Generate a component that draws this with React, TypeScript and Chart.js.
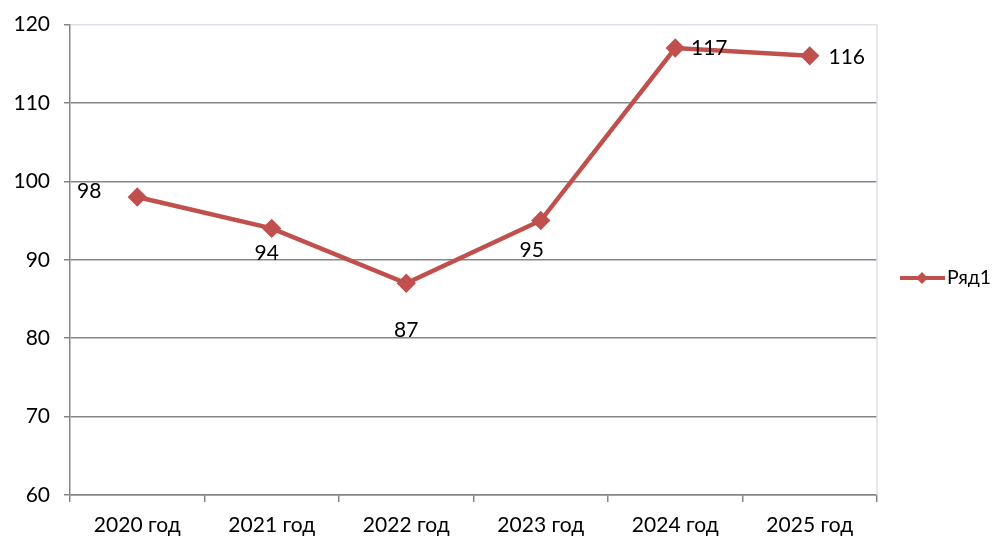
import React, { useEffect, useRef } from "react";
import { Chart, registerables } from "chart.js";

Chart.register(...registerables);

const categories = ["2020 год", "2021 год", "2022 год", "2023 год", "2024 год", "2025 год"];
const seriesName = "Ряд1";
const values = [98, 94, 87, 95, 117, 116];
const yTicks = [60, 70, 80, 90, 100, 110, 120];
// label offsets relative to each point (px)
const labelOffsets: [number, number][] = [[-48, -6], [-5, 25], [0, 47], [-9, 30], [34, 0], [37, 1]];

const FONT = "Lato, 'Open Sans', sans-serif";
const LINE_COLOR = "#c0504d";

export default function App() {
  const ref = useRef<HTMLCanvasElement | null>(null);
  useEffect(() => {
    document.body.style.margin = "0";
    const canvas = ref.current!;
    const extras = {
      id: "extras",
      afterDatasetsDraw(chart: any) {
        const ctx = chart.ctx;
        const ca = chart.chartArea;
        ctx.save();
        // right plot border
        ctx.strokeStyle = "#dce1ea";
        ctx.lineWidth = 1.5;
        ctx.beginPath();
        ctx.moveTo(ca.right, ca.top);
        ctx.lineTo(ca.right, ca.bottom);
        ctx.stroke();
        // data labels
        const meta = chart.getDatasetMeta(0);
        ctx.fillStyle = "#000";
        ctx.font = `21px ${FONT}`;
        ctx.textAlign = "center";
        ctx.textBaseline = "middle";
        meta.data.forEach((pt: any, i: number) => {
          const [dx, dy] = labelOffsets[i];
          ctx.fillText(String(values[i]), pt.x + dx, pt.y + dy);
        });
        // legend
        const ly = 278;
        ctx.strokeStyle = LINE_COLOR;
        ctx.lineWidth = 4;
        ctx.beginPath();
        ctx.moveTo(900, ly);
        ctx.lineTo(945, ly);
        ctx.stroke();
        ctx.fillStyle = LINE_COLOR;
        ctx.beginPath();
        ctx.moveTo(922, ly - 6);
        ctx.lineTo(928, ly);
        ctx.lineTo(922, ly + 6);
        ctx.lineTo(916, ly);
        ctx.closePath();
        ctx.fill();
        ctx.fillStyle = "#000";
        ctx.font = `19.5px ${FONT}`;
        ctx.textAlign = "left";
        ctx.fillText(seriesName, 947, ly);
        ctx.restore();
      },
    };
    const chart = new Chart(canvas, {
      type: "line",
      data: {
        labels: categories,
        datasets: [
          {
            label: seriesName,
            data: values,
            borderColor: LINE_COLOR,
            backgroundColor: LINE_COLOR,
            borderWidth: 4.5,
            pointStyle: "rectRot",
            pointRadius: 6.5,
            pointBackgroundColor: LINE_COLOR,
            pointBorderColor: LINE_COLOR,
            tension: 0,
          },
        ],
      },
      options: {
        animation: false,
        responsive: false,
        maintainAspectRatio: false,
        layout: { padding: { left: 0, top: 24, right: 122, bottom: 0 } },
        plugins: { legend: { display: false }, tooltip: { enabled: false } },
        scales: {
          x: {
            type: "category",
            offset: true,
            grid: {
              offset: true,
              drawOnChartArea: false,
              drawTicks: true,
              tickLength: 7,
              color: "#868686",
              lineWidth: 1.5,
            },
            border: { color: "#868686", width: 1.5 },
            ticks: { color: "#000", font: { family: FONT, size: 21 }, padding: 11 },
            afterFit(scale: any) {
              scale.height = 48;
            },
          },
          y: {
            min: 60,
            max: 120,
            afterBuildTicks(scale: any) {
              scale.ticks = yTicks.map((v) => ({ value: v }));
            },
            grid: {
              color: (c: any) => (c.tick && c.tick.value === 120 ? "#dce1ea" : "#868686"),
              lineWidth: 1.5,
              tickLength: 6,
              tickColor: "#868686",
            },
            border: { color: "#868686", width: 1.5 },
            ticks: { color: "#000", font: { family: FONT, size: 21, lineHeight: 1 }, padding: 14 },
            afterFit(scale: any) {
              scale.width = 70;
            },
          },
        },
      },
      plugins: [extras],
    });
    return () => chart.destroy();
  }, []);
  return <canvas ref={ref} width={999} height={543} style={{ display: "block", width: 999, height: 543 }} />;
}
